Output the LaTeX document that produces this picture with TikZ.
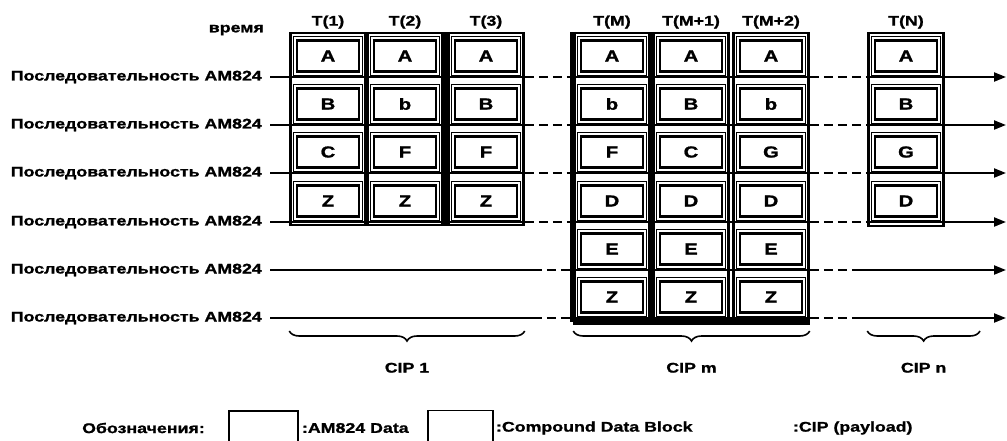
\documentclass[tikz,border=0pt]{standalone}
\usepackage{fontspec}
\newfontfamily\scanfont{Liberation Sans}[FakeStretch=1.27, BoldFeatures={FakeBold=1.2}]
\usepackage{tikz}
\usetikzlibrary{arrows.meta,positioning,decorations.pathreplacing}

\begin{document}
\begin{tikzpicture}[
    x=1pt, y=-1pt,
    txt/.style={font=\scanfont\bfseries\fontsize{14}{16}\selectfont, inner sep=0pt},
    seqlbl/.style={txt, anchor=east},
    cip/.style={draw, line width=2.5pt, minimum width=75pt, inner sep=0pt},
    cdb/.style={draw, line width=0.8pt, fill=white, minimum width=69pt, minimum height=39pt, inner sep=0pt},
    amdata/.style={txt, font=\scanfont\bfseries\fontsize{16}{18}\selectfont, draw, line width=2.5pt, minimum width=62pt, minimum height=31pt},
    heavy/.style={line width=6pt},
    seqline/.style={line width=2.2pt},
    gapline/.style={seqline, dash pattern=on 9pt off 5pt},
    arrow/.style={seqline, -{Triangle[length=12pt, width=9pt]}},
    cipbrace/.style={decorate, decoration={brace, mirror, amplitude=10pt}, line width=1.6pt},
]
\useasboundingbox (0,0) rectangle (1007,440);

% sequences
\node[txt, anchor=east] (time) at (264,30) {время};
\foreach \i/\y in {1/77,2/125,3/173,4/222,5/270,6/318}
  \node[seqlbl] (seq\i) at (262,\y) {Последовательность AM824};
\coordinate (tip) at (1006,0);

% CIP frames
\node[cip, minimum height=192pt] (f1) at (328,129) {};
\node[cip, minimum height=192pt] (f2) at (405,129) {};
\node[cip, minimum height=192pt] (f3) at (486,129) {};
\node[cip, minimum height=288pt] (fM) at (612,177) {};
\node[cip, minimum height=288pt] (fM1) at (691,177) {};
\node[cip, minimum height=288pt] (fM2) at (771,177) {};
\node[cip, minimum height=193pt] (fN) at (906,129.5) {};

\node[txt, above=3pt of f1] (t1) {T(1)};
\node[txt, above=3pt of f2] (t2) {T(2)};
\node[txt, above=3pt of f3] (t3) {T(3)};
\node[txt, above=3pt of fM] (tM) {T(M)};
\node[txt, above=3pt of fM1] (tM1) {T(M+1)};
\node[txt, above=3pt of fM2] (tM2) {T(M+2)};
\node[txt, above=3pt of fN] (tN) {T(N)};

% lines of the sequences
\foreach \i in {1,...,4} {
  \draw[seqline] ([xshift=8pt]seq\i.east) -- (seq\i -| f3.east);
  \draw[gapline] (seq\i -| f3.east) -- (seq\i -| fM.west);
  \draw[seqline] (seq\i -| fM.west) -- (seq\i -| fM2.east);
  \draw[gapline] (seq\i -| fM2.east) -- (seq\i -| fN.west);
  \draw[arrow] (seq\i -| fN.west) -- (seq\i -| tip);
}
\foreach \i in {5,6} {
  \draw[seqline] ([xshift=8pt]seq\i.east) -- ([xshift=8pt]seq\i -| f3.east);
  \draw[gapline] ([xshift=8pt]seq\i -| f3.east) -- (seq\i -| fM.west);
  \draw[seqline] (seq\i -| fM.west) -- (seq\i -| fM2.east);
  \draw[gapline] (seq\i -| fM2.east) -- ([xshift=-8pt]seq\i -| fN.west);
  \draw[arrow] ([xshift=-8pt]seq\i -| fN.west) -- (seq\i -| tip);
}

\draw[heavy] (f3.north west) -- (f3.south west);
\draw[heavy] (fM.north west) -- (fM.south west);
\draw[heavy] (fM.north east) -- (fM.south east);
\draw[heavy] (fM.south west) -- (fM2.south east);

% data blocks
\foreach \f/\list in {f1/{A,B,C,Z}, f2/{A,b,F,Z}, f3/{A,B,F,Z},
    fM/{A,b,F,D,E,Z}, fM1/{A,B,C,D,E,Z}, fM2/{A,b,G,D,E,Z}, fN/{A,B,G,D}}
  \foreach \c [count=\k] in \list {
    \node[cdb] (\f-cdb\k) at ([yshift=21pt]\f |- seq\k) {};
    \node[amdata] (\f-\k) at ([yshift=21pt]\f |- seq\k) {\c};
  }

% braces
\coordinate (cipnend) at (980,331);
\draw[cipbrace] ([yshift=-13pt]seq6 -| f1.west) -- ([yshift=-13pt]seq6 -| f3.east)
  node[txt, midway, below=31pt] (cip1) {CIP 1};
\draw[cipbrace] ([yshift=-13pt]seq6 -| fM.west) -- ([yshift=-13pt]seq6 -| fM2.east)
  node[txt, midway, below=31pt] (cipm) {CIP m};
\draw[cipbrace] ([yshift=-13pt]seq6 -| fN.west) -- (cipnend)
  node[txt, midway, below=31pt] (cipn) {CIP n};

% legend
\node[txt, anchor=east] (legend) at (205,428) {Обозначения:};
\node[draw, line width=1.8pt, minimum width=69pt, minimum height=40pt, anchor=north west] (lgam) at (228,410) {};
\node[txt, anchor=west] (lgamtxt) at ([xshift=3pt]legend -| lgam.east) {:AM824 Data};
\node[draw, line width=0.8pt, minimum width=64pt, minimum height=40pt, anchor=north west] (lgcdb) at (428,410) {};
\draw[line width=2.5pt] (lgcdb.north west) -- (lgcdb.south west);
\draw[line width=2.5pt] (lgcdb.north east) -- (lgcdb.south east);
\node[txt, anchor=west] (lgcdbtxt) at ([xshift=3pt]legend -| lgcdb.east) {:Compound Data Block};
\node[txt, right=100pt of lgcdbtxt] (lgciptxt) {:CIP (payload)};

\end{tikzpicture}
\end{document}
